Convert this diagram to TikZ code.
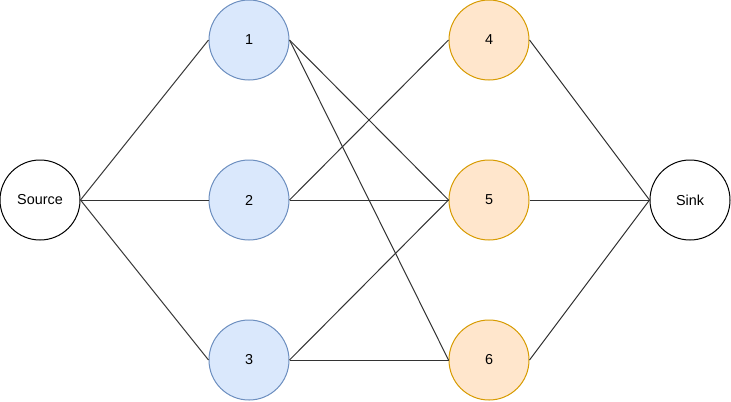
\documentclass[tikz,border=0pt]{standalone}
\usepackage{fontspec}
\setmainfont{Liberation Sans}
\definecolor{bluefill}{HTML}{DAE8FC}
\definecolor{bluedraw}{HTML}{6C8EBF}
\definecolor{orangefill}{HTML}{FFE6CC}
\definecolor{orangedraw}{HTML}{D79B00}
\tikzset{
  vertex/.style={circle, draw, line width=0.75pt, minimum size=60pt, inner sep=0pt, font=\fontsize{10.8}{12}\selectfont},
  leftvertex/.style={vertex, fill=bluefill, draw=bluedraw},
  rightvertex/.style={vertex, fill=orangefill, draw=orangedraw},
  edge/.style={line width=0.75pt, draw=black!80}
}
\begin{document}
\begin{tikzpicture}[x=0.75pt, y=-0.75pt]
            \useasboundingbox (0.000000,0.000000) rectangle (731.000000,401.000000);

            % Marking source and sink by circle
            \node [vertex] (source) at (40.000000,200.000000) {Source};
            \node [vertex] (sink) at (690.000000,200.000000) {Sink};

            % Marking nodes 1 2 3 by circle
            \node [leftvertex] (n1) at (249.000000,40.000000) {1};
            \node [leftvertex] (n2) at (249.000000,200.000000) {2};
            \node [leftvertex] (n3) at (249.000000,360.000000) {3};

            % Marking nodes 4 5 6 by circle
            \node [rightvertex] (n4) at (489.000000,40.000000) {4};
            \node [rightvertex] (n5) at (489.000000,200.000000) {5};
            \node [rightvertex] (n6) at (489.000000,360.000000) {6};

            % Drawing edges from source
            \draw [edge] (source.east) -- (n1.west);
            \draw [edge] (source.east) -- (n2.west);
            \draw [edge] (source.east) -- (n3.west);

            % Drawing edges between the two columns
            \draw [edge] (n1.east) -- (n5.west);
            \draw [edge] (n1.east) -- (n6.west);
            \draw [edge] (n2.east) -- (n4.west);
            \draw [edge] (n2.east) -- (n5.west);
            \draw [edge] (n3.east) -- (n5.west);
            \draw [edge] (n3.east) -- (n6.west);

            % Drawing edges into sink
            \draw [edge] (n4.east) -- (sink.west);
            \draw [edge] (n5.east) -- (sink.west);
            \draw [edge] (n6.east) -- (sink.west);
\end{tikzpicture}
\end{document}
